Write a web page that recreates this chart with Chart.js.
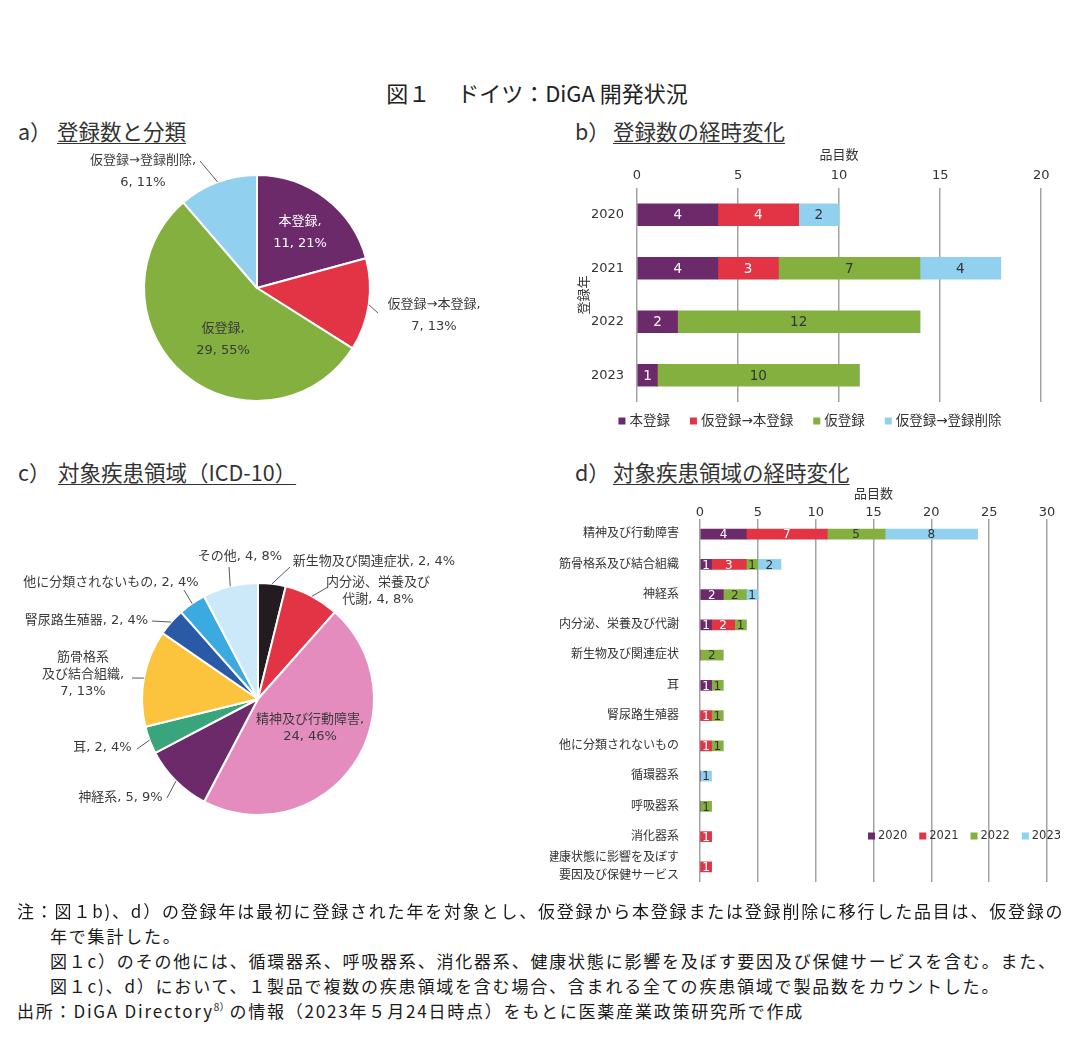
<!DOCTYPE html>
<html lang="ja">
<head>
<meta charset="utf-8">
<script src="https://cdn.jsdelivr.net/npm/chart.js@4.4.0/dist/chart.umd.min.js"></script>
<style>
html,body{margin:0;padding:0;background:#fff;}
body{width:1074px;height:1037px;position:relative;overflow:hidden;font-family:"Noto Sans CJK JP",sans-serif;color:#222;}
.abs{position:absolute;white-space:nowrap;line-height:1;}
canvas{position:absolute;}
.pt{font-size:21.5px;color:#333;}
.ul{text-decoration:underline;text-underline-offset:3px;text-decoration-thickness:1px;}
.note{font-size:17px;letter-spacing:1.8px;color:#1a1a1a;}
sup{font-size:10px;letter-spacing:0;vertical-align:7px;line-height:0;}
</style>
</head>
<body>
<div class="abs" style="left:0;width:1074px;text-align:center;top:81px;font-size:22px;color:#222;">図１　 ドイツ：DiGA 開発状況</div>

<div class="abs pt" style="left:18px;top:120px;">a）</div>
<div class="abs pt ul" style="left:57px;top:120px;">登録数と分類</div>
<div class="abs pt" style="left:575px;top:120px;">b）</div>
<div class="abs pt ul" style="left:613px;top:120px;">登録数の経時変化</div>
<div class="abs pt" style="left:18px;top:461px;">c）</div>
<div class="abs pt ul" style="left:58px;top:461px;">対象疾患領域（ICD-10）</div>
<div class="abs pt" style="left:575px;top:461px;">d）</div>
<div class="abs pt ul" style="left:613px;top:461px;">対象疾患領域の経時変化</div>

<canvas id="chartA" width="540" height="290" style="left:0;top:140px;"></canvas>
<canvas id="chartB" width="490" height="290" style="left:565px;top:145px;"></canvas>
<canvas id="chartC" width="540" height="340" style="left:0;top:500px;"></canvas>
<canvas id="chartD" width="525" height="419" style="left:550px;top:485px;"></canvas>

<div class="abs note" style="left:17px;top:902px;">注：図１b)、d）の登録年は最初に登録された年を対象とし、仮登録から本登録または登録削除に移行した品目は、仮登録の</div>
<div class="abs note" style="left:50px;top:927px;">年で集計した。</div>
<div class="abs note" style="left:50px;top:952px;">図１c）のその他には、循環器系、呼吸器系、消化器系、健康状態に影響を及ぼす要因及び保健サービスを含む。また、</div>
<div class="abs note" style="left:50px;top:977px;">図１c)、d）において、１製品で複数の疾患領域を含む場合、含まれる全ての疾患領域で製品数をカウントした。</div>
<div class="abs note" style="left:17px;top:1002px;">出所：DiGA Directory<sup>8）</sup>の情報（2023年５月24日時点）をもとに医薬産業政策研究所で作成</div>

<script>
// ---------- data ----------
// a) 登録数と分類
const regCategories = ['本登録', '仮登録→本登録', '仮登録', '仮登録→登録削除'];
const regCounts = [11, 7, 29, 6];

// b) 登録数の経時変化
const years = ['2020', '2021', '2022', '2023'];
const yrHon = [4, 4, 2, 1];
const yrKariHon = [4, 3, 0, 0];
const yrKari = [0, 7, 12, 10];
const yrKariDel = [2, 4, 0, 0];
const axisB = {min: 0, max: 20, step: 5};

// c) 対象疾患領域
const diseaseCategories = ['新生物及び関連症状', '内分泌、栄養及び代謝', '精神及び行動障害', '神経系', '耳',
  '筋骨格系及び結合組織', '腎尿路生殖器', '他に分類されないもの', 'その他'];
const diseaseCounts = [2, 4, 24, 5, 2, 7, 2, 2, 4];

// d) 対象疾患領域の経時変化
const areaCategories = ['精神及び行動障害', '筋骨格系及び結合組織', '神経系', '内分泌、栄養及び代謝',
  '新生物及び関連症状', '耳', '腎尿路生殖器', '他に分類されないもの', '循環器系', '呼吸器系', '消化器系',
  ['健康状態に影響を及ぼす', '要因及び保健サービス']];
const dYears = ['2020', '2021', '2022', '2023'];
const area2020 = [4, 1, 2, 1, 0, 1, 0, 0, 0, 0, 0, 0];
const area2021 = [7, 3, 0, 2, 0, 0, 1, 1, 0, 0, 1, 1];
const area2022 = [5, 1, 2, 1, 2, 1, 1, 1, 0, 1, 0, 0];
const area2023 = [8, 2, 1, 0, 0, 0, 0, 0, 1, 0, 0, 0];
const axisD = {min: 0, max: 30, step: 5};

// ---------- styles ----------
const FONT = '"DejaVu Sans", "Noto Sans CJK JP", sans-serif';
const TXT = '#333333';
const GRID = '#a3a3a3';
const PURPLE = '#6d2a6a', RED = '#e23444', GREEN = '#84b03f', LBLUE = '#91d0ef';
const pieAColors = [PURPLE, RED, GREEN, LBLUE];
const pieCColors = ['#231b20', '#e23444', '#e48cbd', '#6d2a6a', '#3aa57c', '#fcc33c', '#2a5aa5', '#3aaae0', '#cbe9f8'];

function pctRound(vals) {
  const tot = vals.reduce((a, b) => a + b, 0);
  const raw = vals.map(v => v / tot * 100);
  const fl = raw.map(Math.floor);
  const rem = 100 - fl.reduce((a, b) => a + b, 0);
  const order = raw.map((r, i) => [r - fl[i], i]).sort((a, b) => b[0] - a[0]);
  for (let k = 0; k < rem; k++) fl[order[k][1]]++;
  return fl;
}

function makePieLabels(layout, size, lh) {
  return {
    id: 'pieLabels',
    afterDatasetsDraw(chart) {
      const {ctx} = chart;
      const ds = chart.data.datasets[0];
      const pcts = pctRound(ds.data);
      const meta = chart.getDatasetMeta(0);
      ctx.save();
      ctx.font = size + 'px ' + FONT;
      ctx.textAlign = 'center';
      ctx.textBaseline = 'middle';
      meta.data.forEach((arc, i) => {
        const L = layout[i];
        const p = arc.getProps(['x', 'y', 'startAngle', 'endAngle', 'outerRadius'], true);
        const mid = (p.startAngle + p.endAngle) / 2;
        const name = chart.data.labels[i];
        const v = ds.data[i], pc = pcts[i];
        let lines;
        if (L.fmt === 'one') lines = [name + ', ' + v + ', ' + pc + '%'];
        else if (L.fmt === 'two') lines = [name + ',', v + ', ' + pc + '%'];
        else if (L.fmt === 'tail') lines = [name.slice(0, L.b), name.slice(L.b) + ', ' + v + ', ' + pc + '%'];
        else lines = [name.slice(0, L.b), name.slice(L.b) + ',', v + ', ' + pc + '%'];
        if (L.lx !== undefined) {
          ctx.strokeStyle = '#5a5a5a';
          ctx.lineWidth = 1;
          ctx.beginPath();
          ctx.moveTo(p.x + Math.cos(mid) * p.outerRadius, p.y + Math.sin(mid) * p.outerRadius);
          ctx.lineTo(p.x + L.lx, p.y + L.ly);
          ctx.stroke();
        }
        ctx.fillStyle = L.color || '#3a3a3a';
        const bx = p.x + L.dx, by = p.y + L.dy;
        lines.forEach((t, k) => ctx.fillText(t, bx, by + (k - (lines.length - 1) / 2) * lh));
      });
      ctx.restore();
    }
  };
}

function makeBarValues(size, colors) {
  return {
    id: 'barValues',
    afterDatasetsDraw(chart) {
      const {ctx} = chart;
      ctx.save();
      ctx.font = size + 'px ' + FONT;
      ctx.textAlign = 'center';
      ctx.textBaseline = 'middle';
      chart.data.datasets.forEach((ds, di) => {
        const meta = chart.getDatasetMeta(di);
        ctx.fillStyle = colors[di];
        meta.data.forEach((bar, i) => {
          const v = ds.data[i];
          if (!v) return;
          const b = bar.getProps(['x', 'y', 'base'], true);
          ctx.fillText(String(v), (b.x + b.base) / 2, b.y + 1);
        });
      });
      ctx.restore();
    }
  };
}

function makeBoxLegend(cfg) {
  return {
    id: 'boxLegend',
    afterDraw(chart) {
      const {ctx} = chart;
      ctx.save();
      ctx.font = cfg.size + 'px ' + FONT;
      ctx.textBaseline = 'middle';
      ctx.textAlign = 'left';
      const items = chart.data.datasets.map(d => ({text: d.label, color: d.backgroundColor}));
      const widths = items.map(it => cfg.box + cfg.gap + ctx.measureText(it.text).width);
      const total = widths.reduce((a, b) => a + b, 0) + cfg.spacing * (items.length - 1);
      let x = cfg.center !== undefined ? cfg.center - total / 2 : cfg.left;
      items.forEach((it, i) => {
        ctx.fillStyle = it.color;
        ctx.fillRect(x, cfg.y - cfg.box / 2, cfg.box, cfg.box);
        ctx.fillStyle = TXT;
        ctx.fillText(it.text, x + cfg.box + cfg.gap, cfg.y + 0.5);
        x += widths[i] + cfg.spacing;
      });
      ctx.restore();
    }
  };
}

const noPlug = {legend: {display: false}, tooltip: {enabled: false}};

// ---------- a) pie ----------
new Chart(document.getElementById('chartA'), {
  type: 'pie',
  data: {labels: regCategories, datasets: [{data: regCounts, backgroundColor: pieAColors, borderColor: '#fff', borderWidth: 2}]},
  options: {
    responsive: false, animation: false, radius: 113,
    layout: {padding: {left: 144, right: 170, top: 35, bottom: 29}},
    plugins: noPlug
  },
  plugins: [makePieLabels([
    {fmt: 'two', dx: 43, dy: -55.5, color: '#ffffff'},
    {fmt: 'two', dx: 177, dy: 27.5, lx: 121, ly: 25},
    {fmt: 'two', dx: -34, dy: 51.5},
    {fmt: 'two', dx: -114, dy: -116.5, lx: -57, ly: -127}
  ], 13, 22)]
});

// ---------- b) stacked bars ----------
new Chart(document.getElementById('chartB'), {
  type: 'bar',
  data: {
    labels: years,
    datasets: [
      {label: regCategories[0], data: yrHon, backgroundColor: PURPLE},
      {label: regCategories[1], data: yrKariHon, backgroundColor: RED},
      {label: regCategories[2], data: yrKari, backgroundColor: GREEN},
      {label: regCategories[3], data: yrKariDel, backgroundColor: LBLUE}
    ]
  },
  options: {
    indexAxis: 'y', responsive: false, animation: false,
    barThickness: 22,
    layout: {padding: {left: 0, right: 10, top: 0, bottom: 33}},
    plugins: noPlug,
    scales: {
      x: {
        position: 'top', stacked: true, min: axisB.min, max: axisB.max,
        ticks: {stepSize: axisB.step, padding: 5.5, color: TXT, font: {family: FONT, size: 13, lineHeight: 1}},
        grid: {color: GRID, lineWidth: 1.5, drawTicks: false},
        border: {display: false},
        title: {display: true, text: '品目数', color: TXT, font: {family: FONT, size: 13}, padding: {top: 3, bottom: 0}},
        afterFit: s => { s.height = 43; }
      },
      y: {
        stacked: true,
        ticks: {padding: 5, color: TXT, autoSkip: false, font: {family: FONT, size: 13, lineHeight: 1}},
        grid: {display: false},
        border: {display: false},
        title: {display: true, text: '登録年', color: TXT, font: {family: FONT, size: 13}, padding: {top: 12, bottom: 0}},
        afterFit: s => { s.width = 72; }
      }
    }
  },
  plugins: [makeBarValues(13.5, ['#ffffff', '#ffffff', '#333333', '#333333']),
            makeBoxLegend({center: 245, y: 276, size: 13.5, box: 7, gap: 4, spacing: 20})]
});

// ---------- c) pie ----------
new Chart(document.getElementById('chartC'), {
  type: 'pie',
  data: {labels: diseaseCategories, datasets: [{data: diseaseCounts, backgroundColor: pieCColors, borderColor: '#fff', borderWidth: 2}]},
  options: {
    responsive: false, animation: false, radius: 116,
    layout: {padding: {left: 142, right: 166, top: 83, bottom: 25}},
    plugins: noPlug
  },
  plugins: [makePieLabels([
    {fmt: 'one', dx: 116, dy: -137, lx: 32, ly: -132},
    {fmt: 'tail', b: 8, dx: 120, dy: -107.5, lx: 70, ly: -112},
    {fmt: 'two', dx: 52, dy: 29.5},
    {fmt: 'one', dx: -137.5, dy: 99, lx: -91, ly: 99},
    {fmt: 'one', dx: -155.5, dy: 49, lx: -121, ly: 50},
    {fmt: 'three', b: 4, dx: -175, dy: -24, lx: -126, ly: -21},
    {fmt: 'one', dx: -171.5, dy: -78, lx: -106, ly: -78},
    {fmt: 'one', dx: -147, dy: -116, lx: -74, ly: -109},
    {fmt: 'one', dx: -18, dy: -142, lx: -29, ly: -132}
  ], 13, 17)]
});

// ---------- d) stacked bars ----------
new Chart(document.getElementById('chartD'), {
  type: 'bar',
  data: {
    labels: areaCategories,
    datasets: [
      {label: dYears[0], data: area2020, backgroundColor: PURPLE},
      {label: dYears[1], data: area2021, backgroundColor: RED},
      {label: dYears[2], data: area2022, backgroundColor: GREEN},
      {label: dYears[3], data: area2023, backgroundColor: LBLUE}
    ]
  },
  options: {
    indexAxis: 'y', responsive: false, animation: false,
    barThickness: 10,
    layout: {padding: {left: 0, right: 28, top: 0, bottom: 2}},
    plugins: noPlug,
    scales: {
      x: {
        position: 'top', stacked: true, min: axisD.min, max: axisD.max,
        ticks: {stepSize: axisD.step, padding: 0, color: TXT, font: {family: FONT, size: 13, lineHeight: 1}},
        grid: {color: GRID, lineWidth: 1.5, drawTicks: false},
        border: {display: false},
        title: {display: true, text: '品目数', color: TXT, font: {family: FONT, size: 13}, padding: {top: 2, bottom: 0}},
        afterFit: s => { s.height = 34; }
      },
      y: {
        stacked: true,
        ticks: {padding: 13, color: TXT, autoSkip: false, font: {family: FONT, size: 12, lineHeight: 1.5}},
        grid: {display: false},
        border: {display: false},
        afterFit: s => { s.width = 150; }
      }
    }
  },
  plugins: [makeBarValues(12, ['#ffffff', '#ffffff', '#333333', '#333333']),
            makeBoxLegend({left: 318, y: 351, size: 11.5, box: 7, gap: 3, spacing: 12})]
});
</script>
</body>
</html>
